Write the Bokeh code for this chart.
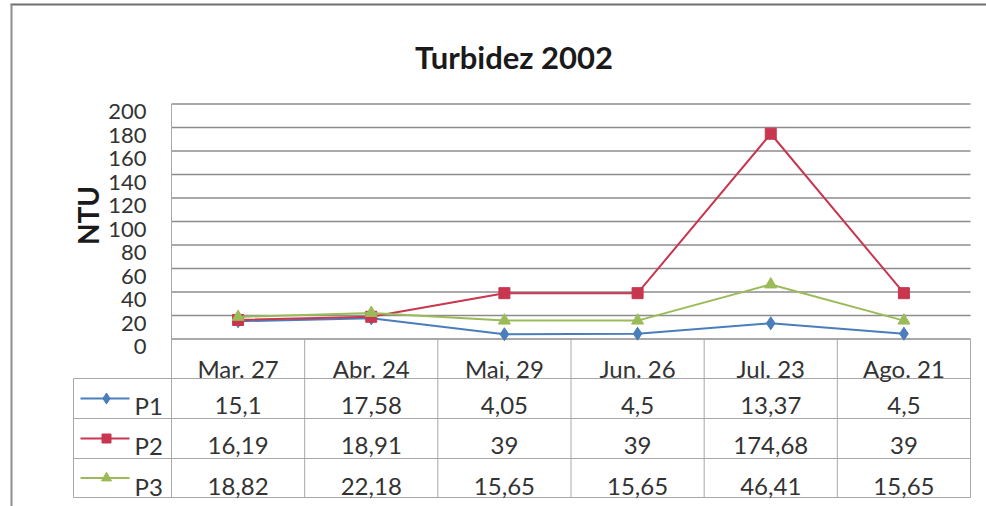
from bokeh.plotting import figure
from bokeh.models import Range1d
from bokeh.core.properties import value
from bokeh.embed import file_html
from bokeh.resources import INLINE
import math

# ---------------- data ----------------
title_text = "Turbidez 2002"
y_label = "NTU"
categories = ["Mar. 27", "Abr. 24", "Mai, 29", "Jun. 26", "Jul. 23", "Ago. 21"]
series_names = ["P1", "P2", "P3"]
p1 = [15.1, 17.58, 4.05, 4.5, 13.37, 4.5]
p2 = [16.19, 18.91, 39, 39, 174.68, 39]
p3 = [18.82, 22.18, 15.65, 15.65, 46.41, 15.65]
y_ticks = [0, 20, 40, 60, 80, 100, 120, 140, 160, 180, 200]

# ---------------- styles ----------------
colors = ["#4A7EBB", "#C8364F", "#9BBB59"]
markers = ["diamond", "square", "triangle"]
msizes = [13, 11, 12]
FONT = value("Lato")
GRID_C = "#8C8C8C"
TABLE_C = "#A8A8A8"
TXT_C = "#333333"

# ---------------- layout (reference pixels) ----------------
W, H = 986, 506
OFF = 0
PLOT_L, PLOT_R = 171, 970
Y0_PX, YTOP_PX = 338.5, 103.5
TABLE_L = 73
ROW_EDGES = [378, 418, 458, 497]
HEAD_BASE = 368
ROW_BASES = [405, 445, 486]

cw = (PLOT_R - PLOT_L) / len(categories)
k = (Y0_PX - YTOP_PX) / (y_ticks[-1] - y_ticks[0])


def xd(X):
    return (X - PLOT_L) / cw - 0.5


def yd(Y):
    return (Y0_PX - Y) / k


p = figure(width=W, height=H,
           x_range=Range1d(xd(OFF), xd(OFF + W)),
           y_range=Range1d(yd(OFF + H), yd(OFF)),
           output_backend="svg", toolbar_location=None,
           x_axis_location=None, y_axis_location=None,
           min_border=0, outline_line_color=None,
           background_fill_color="white", border_fill_color="white")
p.grid.visible = False

# outer frame lines (top and left)
p.segment(x0=[xd(10)], y0=[yd(4)], x1=[xd(OFF + W)], y1=[yd(4)],
          line_color="#6E6E6E", line_width=2)
p.segment(x0=[xd(11)], y0=[yd(4)], x1=[xd(11)], y1=[yd(OFF + H)],
          line_color="#8E8E8E", line_width=2)

# title
p.text(x=[xd(513.5)], y=[yd(56)], text=[title_text], text_font=FONT,
       text_font_size="31px", text_font_style="bold", text_color="#1A1A1A",
       text_align="center", text_baseline="alphabetic")

# y axis label
p.text(x=[xd(87)], y=[yd(215)], text=[y_label], text_font=FONT,
       text_font_size="28px", text_font_style="bold", text_color="#1A1A1A",
       text_align="center", text_baseline="alphabetic", angle=math.pi / 2)

# gridlines
n = len(y_ticks)
p.segment(x0=[xd(PLOT_L)] * n, y0=y_ticks, x1=[xd(PLOT_R)] * n, y1=y_ticks,
          line_color=GRID_C, line_width=1.3)
# value axis line
p.segment(x0=[xd(PLOT_L)], y0=[y_ticks[0]], x1=[xd(PLOT_L)], y1=[y_ticks[-1]],
          line_color=TABLE_C, line_width=1)

# tick labels
tick_base_shift = 7.5 / k
p.text(x=[xd(146)] * n, y=[t - tick_base_shift for t in y_ticks],
       text=[str(t) for t in y_ticks], text_font=FONT, text_font_size="22px",
       text_color=TXT_C, text_align="right", text_baseline="alphabetic")

# ---------------- data table ----------------
ncat = len(categories)
xs = list(range(ncat))
col_edges = [i - 0.5 for i in range(ncat + 1)]
p.segment(x0=col_edges, y0=[0] * len(col_edges), x1=col_edges,
          y1=[yd(ROW_EDGES[-1])] * len(col_edges), line_color=TABLE_C, line_width=1)
p.segment(x0=[xd(TABLE_L)], y0=[yd(ROW_EDGES[0])], x1=[xd(TABLE_L)],
          y1=[yd(ROW_EDGES[-1])], line_color=TABLE_C, line_width=1)
p.segment(x0=[xd(TABLE_L)] * len(ROW_EDGES), y0=[yd(Y) for Y in ROW_EDGES],
          x1=[xd(PLOT_R)] * len(ROW_EDGES), y1=[yd(Y) for Y in ROW_EDGES],
          line_color=TABLE_C, line_width=1)

p.text(x=xs, y=[yd(HEAD_BASE)] * ncat, text=categories, text_font=FONT,
       text_font_size="24px", text_color=TXT_C, text_align="center",
       text_baseline="alphabetic")


def fmt(v):
    return f"{v:g}".replace(".", ",")


series = [p1, p2, p3]
for r, (name, vals, c, m, ms) in enumerate(zip(series_names, series, colors, markers, msizes)):
    base = ROW_BASES[r]
    mid = (ROW_EDGES[r] + ROW_EDGES[r + 1]) / 2
    p.text(x=xs, y=[yd(base)] * ncat, text=[fmt(v) for v in vals], text_font=FONT,
           text_font_size="24px", text_color=TXT_C, text_align="center",
           text_baseline="alphabetic")
    p.segment(x0=[xd(80)], y0=[yd(mid)], x1=[xd(129)], y1=[yd(mid)],
              line_color=c, line_width=2)
    p.scatter(x=[xd(106)], y=[yd(mid)], marker=m, size=ms - 2,
              fill_color=c, line_color=c)
    p.text(x=[xd(134)], y=[yd(base)], text=[name], text_font=FONT,
           text_font_size="24px", text_color=TXT_C, text_align="left",
           text_baseline="alphabetic")

for name, vals, c, m, ms in zip(series_names, series, colors, markers, msizes):
    p.line(x=xs, y=vals, line_color=c, line_width=2)
    p.scatter(x=xs, y=vals, marker=m, size=ms, fill_color=c, line_color=c)

open("out.html", "w").write(file_html(p, INLINE))
